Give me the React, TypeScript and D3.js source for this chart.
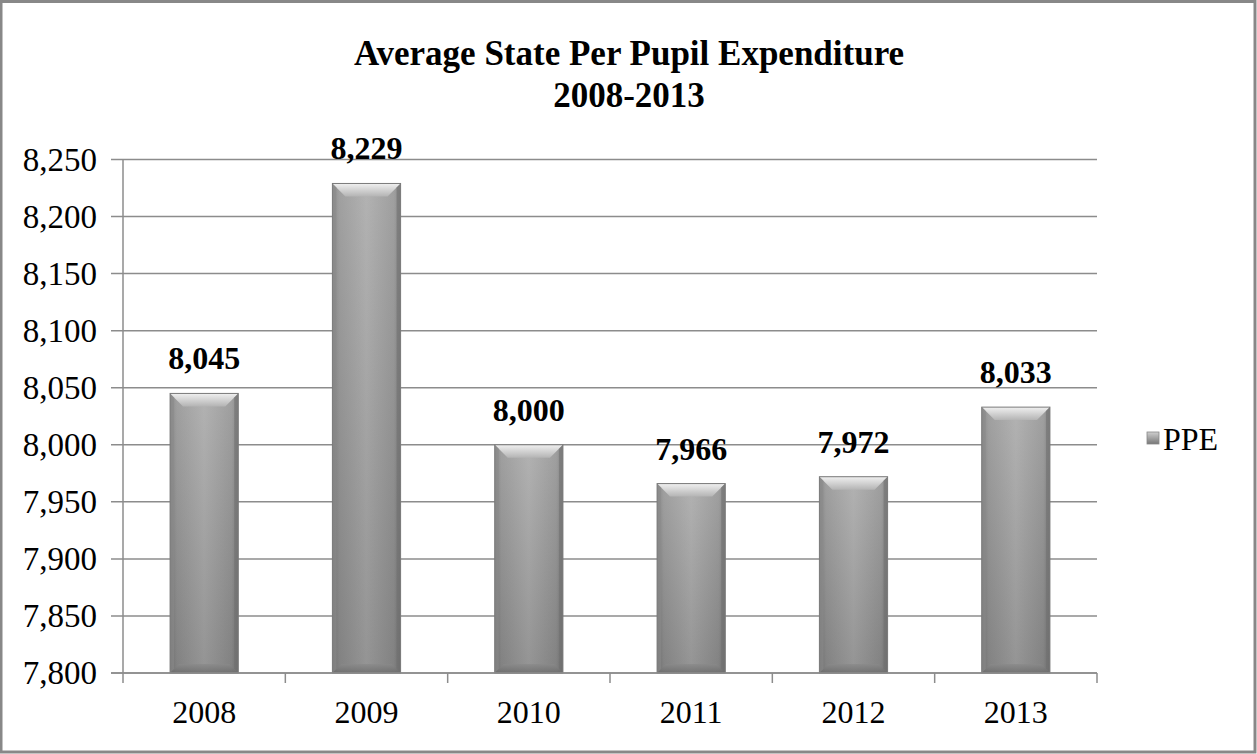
import React from "react";
import * as d3 from "d3";

const categories = ["2008", "2009", "2010", "2011", "2012", "2013"];
const ppeValues = [8045, 8229, 8000, 7966, 7972, 8033];
const yTicks = [7800, 7850, 7900, 7950, 8000, 8050, 8100, 8150, 8200, 8250];
const seriesName = "PPE";
const titleLines = ["Average State Per Pupil Expenditure", "2008-2013"];

const W = 1257;
const H = 754;
const plot = { left: 123, right: 1097, top: 159.5, bottom: 673 };
const FONT = "'Liberation Serif', 'Times New Roman', serif";

export default function App() {
  const x = d3.scaleBand<string>().domain(categories).range([plot.left, plot.right]).paddingInner(0).paddingOuter(0);
  const y = d3.scaleLinear().domain([7800, 8250]).range([plot.bottom, plot.top]);
  const fmt = d3.format(",");
  const barW = x.bandwidth() * 0.42;
  const bev = 13;

  return (
    <svg width={W} height={H} style={{ position: "absolute", left: 0, top: 0, background: "#fff" }} fontFamily={FONT}>
      <defs>
        <linearGradient id="body" x1="0" x2="1" y1="0" y2="0">
          <stop offset="0%" stopColor="#7c7c7c" />
          <stop offset="10%" stopColor="#939393" />
          <stop offset="50%" stopColor="#a8a8a8" />
          <stop offset="90%" stopColor="#939393" />
          <stop offset="100%" stopColor="#7c7c7c" />
        </linearGradient>
        <linearGradient id="shade" x1="0" x2="0" y1="0" y2="1">
          <stop offset="0%" stopColor="#ffffff" stopOpacity={0.12} />
          <stop offset="100%" stopColor="#000000" stopOpacity={0.12} />
        </linearGradient>
        <linearGradient id="topbev" x1="0" x2="0" y1="0" y2="1">
          <stop offset="0%" stopColor="#f0f0f0" />
          <stop offset="100%" stopColor="#b4b4b4" />
        </linearGradient>
        <linearGradient id="botbev" x1="0" x2="0" y1="0" y2="1">
          <stop offset="0%" stopColor="#8a8a8a" />
          <stop offset="100%" stopColor="#6a6a6a" />
        </linearGradient>
        <linearGradient id="leg" x1="0" x2="0" y1="0" y2="1">
          <stop offset="0%" stopColor="#cfcfcf" />
          <stop offset="100%" stopColor="#777" />
        </linearGradient>
      </defs>
      <rect x={1} y={1.5} width={W - 3} height={H - 3.5} fill="#fff" stroke="#888" strokeWidth={3} />

      {/* title */}
      <text x={629} y={65} textAnchor="middle" fontSize={35} fontWeight="bold" fill="#000">{titleLines[0]}</text>
      <text x={629} y={107} textAnchor="middle" fontSize={35} fontWeight="bold" fill="#000">{titleLines[1]}</text>

      {/* gridlines */}
      {yTicks.map((t) => (
        <line key={"g" + t} x1={plot.left - 12} x2={plot.right} y1={y(t)} y2={y(t)} stroke="#8c8c8c" strokeWidth={1.5} />
      ))}
      {yTicks.map((t) => (
        <text key={"yl" + t} x={97} y={y(t) + 11} textAnchor="end" fontSize={33} fill="#000">{fmt(t)}</text>
      ))}
      <line x1={plot.left} x2={plot.left} y1={plot.top} y2={plot.bottom} stroke="#8c8c8c" strokeWidth={1.5} />

      {/* bars */}
      {categories.map((c, i) => {
        const v = ppeValues[i];
        const cx = (x(c) as number) + x.bandwidth() / 2;
        const x0 = cx - barW / 2;
        const x1 = cx + barW / 2;
        const yt = y(v);
        const yb = plot.bottom;
        const h = yb - yt;
        const b = Math.min(bev, h / 3);
        const bb = Math.min(9, h / 4);
        return (
          <g key={c}>
            <rect x={x0} y={yt} width={barW} height={h} fill="url(#body)" />
            <rect x={x0} y={yt} width={barW} height={h} fill="url(#shade)" />
            <polygon points={`${x0},${yt} ${x1},${yt} ${x1 - b},${yt + b} ${x0 + b},${yt + b}`} fill="url(#topbev)" />
            <polygon points={`${x0},${yt} ${x0 + 4},${yt + 4} ${x0 + 4},${yb - 4} ${x0},${yb}`} fill="#8a8a8a" opacity={0.6} />
            <polygon points={`${x1},${yt} ${x1 - 4},${yt + 4} ${x1 - 4},${yb - 4} ${x1},${yb}`} fill="#6f6f6f" opacity={0.6} />
            <polygon points={`${x0},${yb} ${x1},${yb} ${x1 - bb},${yb - bb} ${x0 + bb},${yb - bb}`} fill="url(#botbev)" opacity={0.75} />
            <rect x={x0} y={yt} width={barW} height={h} fill="none" stroke="#7a7a7a" strokeWidth={1} />
            <text x={cx} y={yt - 24} textAnchor="middle" fontSize={32} fontWeight="bold" fill="#000">{fmt(v)}</text>
          </g>
        );
      })}

      {/* x axis */}
      <line x1={plot.left - 12} x2={plot.right} y1={plot.bottom} y2={plot.bottom} stroke="#8c8c8c" strokeWidth={1.5} />
      {categories.map((c) => (
        <line key={"t" + c} x1={x(c) as number} x2={x(c) as number} y1={plot.bottom} y2={plot.bottom + 10} stroke="#8c8c8c" strokeWidth={1.5} />
      ))}
      <line x1={plot.right} x2={plot.right} y1={plot.bottom} y2={plot.bottom + 10} stroke="#8c8c8c" strokeWidth={1.5} />
      {categories.map((c) => (
        <text key={"xl" + c} x={(x(c) as number) + x.bandwidth() / 2} y={723} textAnchor="middle" fontSize={32} fill="#000">{c}</text>
      ))}

      {/* legend */}
      <rect x={1147} y={432} width={12} height={12} fill="url(#leg)" stroke="#888" strokeWidth={0.8} />
      <text x={1163} y={450} fontSize={32} fill="#000">{seriesName}</text>
    </svg>
  );
}
